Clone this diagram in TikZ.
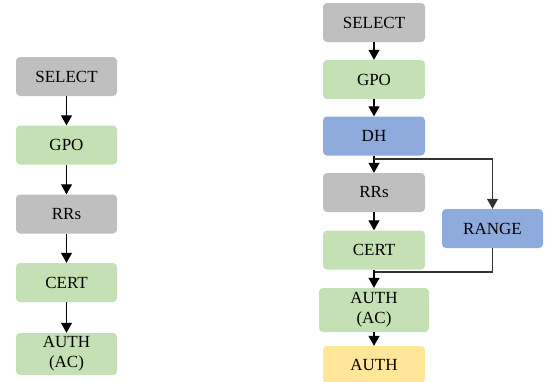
\documentclass[tikz,border=0pt]{standalone}
\usepackage{fontspec}
\setmainfont{Liberation Serif}
\usetikzlibrary{arrows.meta}
\definecolor{cgray}{HTML}{BFBFBF}
\definecolor{cgreen}{HTML}{C5E0B4}
\definecolor{cblue}{HTML}{8FAADC}
\definecolor{cyellow}{HTML}{FFE699}
\begin{document}
\begin{tikzpicture}[x=1pt,y=-1pt,
  box/.style={rounded corners=4pt,minimum width=101pt,minimum height=39pt,inner sep=0pt,align=center,font=\fontsize{17}{20}\selectfont},
  gbox/.style={box,fill=cgray},
  grbox/.style={box,fill=cgreen},
  bbox/.style={box,fill=cblue},
  ybox/.style={box,fill=cyellow},
  arr/.style={line width=1.1pt,-{Triangle[width=11pt,length=10pt]}},
  ln/.style={line width=1.1pt,draw=black!80}]
\useasboundingbox (0,0) rectangle (545,381);
% left column
\node[gbox] (l1) at (66.5,76.5) {SELECT};
\node[grbox] (l2) at (66.5,145) {GPO};
\node[gbox] (l3) at (66.5,214) {RRs};
\node[grbox] (l4) at (66.5,282.5) {CERT};
\node[grbox,minimum height=42pt] (l5) at (66.5,354) {AUTH\\(AC)};
\draw[arr] (l1) -- (l2);
\draw[arr] (l2) -- (l3);
\draw[arr] (l3) -- (l4);
\draw[arr] (l4) -- (l5);
% right column
\node[gbox,minimum width=102pt] (r1) at (374,22.5) {SELECT};
\node[grbox,minimum width=102pt] (r2) at (374,79.5) {GPO};
\node[bbox,minimum width=102pt] (r3) at (374,136) {DH};
\node[gbox,minimum width=102pt] (r4) at (374,192.5) {RRs};
\node[bbox] (rg) at (492.5,228.5) {RANGE};
\node[grbox,minimum width=102pt] (r5) at (374,250) {CERT};
\node[grbox,minimum width=110pt,minimum height=44pt] (r6) at (374,310) {AUTH\\(AC)};
\node[ybox,minimum width=102pt,minimum height=37pt] (r7) at (374,364.5) {AUTH};
\coordinate (br) at (374,159);
\coordinate (mg) at (374,272);
\draw[arr] (r1) -- (r2);
\draw[arr] (r2) -- (r3);
\draw[arr] (r3) -- (r4);
\draw[ln,-{Triangle[width=11pt,length=10pt]}] (br) -| (rg.north);
\draw[ln] (rg.south) |- (mg);
\draw[arr] (r4) -- (r5);
\draw[arr] (r5) -- (r6);
\draw[arr] (r6) -- (r7);
\end{tikzpicture}
\end{document}
